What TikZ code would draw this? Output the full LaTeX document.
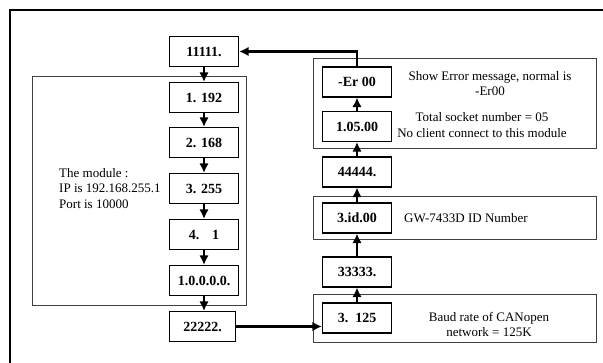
\documentclass[tikz,border=0pt]{standalone}
\usepackage{fontspec}
\setmainfont{Liberation Serif}
\usetikzlibrary{arrows.meta,positioning,calc}

\tikzset{
  valbox/.style={draw, line width=1.2pt, minimum width=69pt, minimum height=30pt,
    inner sep=0pt, font=\fontsize{14}{16}\selectfont\bfseries},
  groupbox/.style={draw=black!75, line width=0.8pt},
  note/.style={font=\fontsize{13}{15.5}\selectfont, inner sep=0pt},
  flow/.style={line width=2.2pt, -{Latex[length=9.5pt,width=9.5pt]}}
}

\begin{document}
\begin{tikzpicture}[x=1pt,y=-1pt]
    \useasboundingbox (0,0) rectangle (603,362);

    % Outer frame (cut off at right and bottom)
    \draw[line width=2pt] (10,380) -- (10,10) -- (620,10);

    % Group boxes
    \draw[groupbox] (32,76) rectangle (246,305);
    \draw[groupbox] (313,58) rectangle (596,148);
    \draw[groupbox] (313,196) rectangle (596,239);
    \draw[groupbox] (313,294) rectangle (596,342);

    % Left column: IP address
    \node[valbox] (n11111) at (204,51.5) {11111.};
    \node[valbox] (ip1) at (204,97.5) {1. 192};
    \node[valbox] (ip2) at (204,142.5) {2. 168};
    \node[valbox] (ip3) at (204,188.5) {3. 255};
    \node[valbox] (ip4) at (204,234.5) {4.\hspace{0.9em}1};
    \node[valbox] (port) at (204,280.5) {1.0.0.0.0.};
    \node[valbox, minimum width=66pt] (n22222) at (202.5,326.5) {22222.};

    % Right column: CANopen / module info
    \node[valbox] (baud) at (357,318) {3.\ \ 125};
    \node[valbox] (n33333) at (357,272) {33333.};
    \node[valbox] (idnum) at (357,218) {3.id.00};
    \node[valbox] (n44444) at (357,172) {44444.};
    \node[valbox] (sock) at (357,126.5) {1.05.00};
    \node[valbox] (err) at (357,82) {-Er 00};

    % Notes
    \node[note, anchor=west, align=left] (ipnote) at (59,188.5)
        {The module :\\IP is 192.168.255.1\\Port is 10000};
    \node[note, align=center] (errnote) at (490,83.5)
        {Show Error message, normal is\\-Er00};
    \node[note, align=center] (socknote) at (482,125)
        {Total socket number = 05\\No client connect to this module};
    \node[note, anchor=west] (idnote) at (404,218) {GW-7433D ID Number};
    \node[note, align=center] (baudnote) at (489,324.5)
        {Baud rate of CANopen\\network = 125K};

    % Flow arrows
    \draw[flow] (n11111) -- (ip1);
    \draw[flow] (ip1) -- (ip2);
    \draw[flow] (ip2) -- (ip3);
    \draw[flow] (ip3) -- (ip4);
    \draw[flow] (ip4) -- (port);
    \draw[flow] (port.south -| n11111.south) -- (n22222.north -| n11111.south);
    \draw[flow] (n22222.east) -- (n22222.east -| baud.west);
    \draw[flow] (baud) -- (n33333);
    \draw[flow] (n33333) -- (idnum);
    \draw[flow] (idnum) -- (n44444);
    \draw[flow] (n44444) -- (sock);
    \draw[flow] (sock) -- (err);
    \draw[flow] (err.north) |- (n11111.east);
\end{tikzpicture}
\end{document}
